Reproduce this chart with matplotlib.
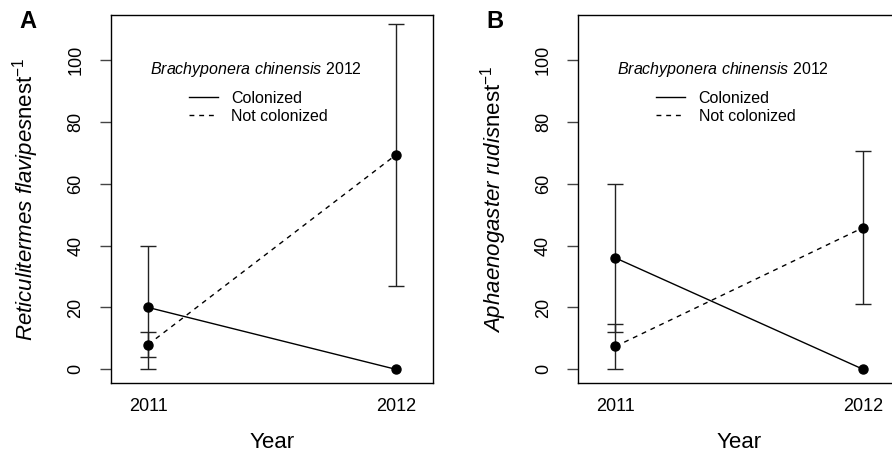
import numpy as np
import matplotlib
matplotlib.use("Agg")
import matplotlib.pyplot as plt

plt.rcParams["font.family"] = ["Liberation Sans", "DejaVu Sans"]
plt.rcParams["mathtext.fontset"] = "custom"
plt.rcParams["mathtext.rm"] = "Liberation Sans"
plt.rcParams["mathtext.it"] = "Liberation Sans:italic"

# ---- data ----
years = np.array([2011, 2012])

a_col_mean = np.array([20.0, 0.0])
a_col_err = np.array([20.0, 0.0])
a_not_mean = np.array([8.0, 69.3])
a_not_err = np.array([4.0, 42.3])

b_col_mean = np.array([36.0, 0.0])
b_col_err = np.array([24.0, 0.0])
b_not_mean = np.array([7.4, 45.8])
b_not_err = np.array([7.4, 24.7])

y_ticks = [0, 20, 40, 60, 80, 100]
ylabels = [
    r"$\mathit{Reticulitermes\ flavipes}\mathrm{nest}^{-1}$",
    r"$\mathit{Aphaenogaster\ rudis}\mathrm{nest}^{-1}$",
]
legend_title = r"$\mathit{Brachyponera\ chinensis}$ 2012"
series_labels = ["Colonized", "Not colonized"]

fig = plt.figure(figsize=(8.92, 4.53), dpi=100)
ax_a = fig.add_axes([0.1244, 0.1545, 0.361, 0.8124])
ax_b = fig.add_axes([0.6483, 0.1545, 0.361, 0.8124])

panels = [
    (ax_a, "A", a_col_mean, a_col_err, a_not_mean, a_not_err, ylabels[0]),
    (ax_b, "B", b_col_mean, b_col_err, b_not_mean, b_not_err, ylabels[1]),
]

for ax, tag, cm, ce, nm, ne, ylab in panels:
    # error bars (skip zero-width ones)
    for mean, err in [(cm, ce), (nm, ne)]:
        keep = err > 0
        ax.errorbar(years[keep], mean[keep], yerr=err[keep], fmt="none",
                    ecolor="#222222", elinewidth=1.0, capsize=6, capthick=1.0)
    ax.plot(years, cm, color="black", lw=1.0, ls="-", marker="o", ms=6.5,
            label=series_labels[0])
    ax.plot(years, nm, color="black", lw=1.0, ls=(0, (3.5, 3.5)), marker="o",
            ms=6.5, label=series_labels[1])

    ax.set_xlim(2010.85, 2012.15)
    ax.set_ylim(-4.43, 114.55)
    ax.set_xticks(years)
    ax.set_xticklabels([str(y) for y in years])
    ax.set_yticks(y_ticks)
    ax.set_yticklabels([str(v) for v in y_ticks], rotation=90, va="center")
    ax.tick_params(axis="x", length=0, pad=11, labelsize=13)
    ax.tick_params(axis="y", length=8, width=1.0, pad=11, labelsize=13,
                   color="#444444")
    for sp in ax.spines.values():
        sp.set_linewidth(1.0)

    ax.set_xlabel("Year", fontsize=16, labelpad=12)
    ax.set_ylabel(ylab, fontsize=16)
    ax.yaxis.set_label_coords(-0.216, 0.5)

    ax.text(0.45, 0.853, legend_title, transform=ax.transAxes,
            ha="center", va="center", fontsize=11.5)
    ax.legend(loc="center left", bbox_to_anchor=(0.242, 0.7495),
              frameon=False, fontsize=11.5, handlelength=1.8,
              handletextpad=0.85, labelspacing=0.2, borderpad=0,
              borderaxespad=0, markerscale=0)
    leg = ax.get_legend()
    for h in leg.get_lines():
        h.set_marker("")

fig.text(28 / 892, 1 - 22 / 453, "A", fontsize=17, fontweight="bold",
         ha="center", va="center")
fig.text(495 / 892, 1 - 21 / 453, "B", fontsize=17, fontweight="bold",
         ha="center", va="center")

fig.savefig("out.png", dpi=100)
